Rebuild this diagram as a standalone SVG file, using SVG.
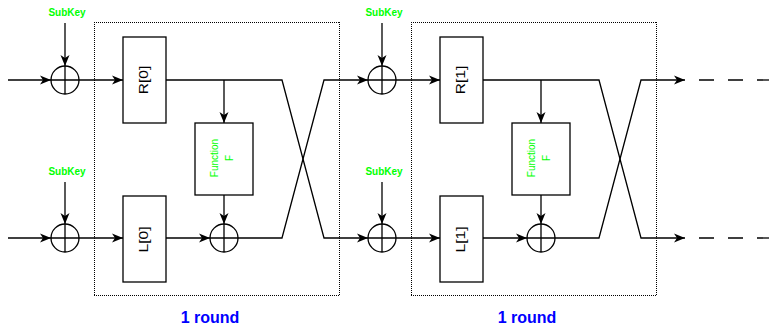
<svg xmlns="http://www.w3.org/2000/svg" width="769" height="326" viewBox="0 0 769 326">
  <defs>
    <marker id="arr" markerUnits="userSpaceOnUse" markerWidth="12" markerHeight="10" viewBox="0 0 12 10" refX="11" refY="5" orient="auto">
      <path d="M0,0.5 L11,5 L0,9.5 L3,5 Z" fill="#000"/>
    </marker>
  </defs>
  <style>
    .ln { fill: none; stroke: #000; stroke-width: 1.3; }
    .ar { marker-end: url(#arr); }
    .box { fill: #fff; stroke: #000; stroke-width: 1.3; }
    .xor { fill: #fff; stroke: #000; stroke-width: 1.3; }
    .round { fill: none; stroke: #000; stroke-width: 1; stroke-dasharray: 1 1; shape-rendering: crispEdges; }
    .reg { font-family: "Liberation Sans", Arial, sans-serif; font-size: 12px; fill: #000; }
    .fn { font-family: "Liberation Sans", Arial, sans-serif; font-size: 10px; fill: #00ff00; }
    .sk { font-family: "Liberation Sans", Arial, sans-serif; font-size: 10px; font-weight: bold; fill: #00ff00; }
    .rl { font-family: "Liberation Sans", Arial, sans-serif; font-size: 16px; font-weight: bold; fill: #0000ff; }
    .dash { fill: none; stroke: #000; stroke-width: 1.3; stroke-dasharray: 15 14; }
  </style>

  <!-- Round containers -->
  <g id="round0">
    <path class="round" d="M94,22.5 H340 M339.5,22 V296 M94,295.5 H340 M94.5,22 V296"/>
    <text class="rl" x="210" y="323" text-anchor="middle">1 round</text>
  </g>
  <g id="round1">
    <path class="round" d="M411,22.5 H657 M656.5,22 V296 M411,295.5 H657 M411.5,22 V296"/>
    <text class="rl" x="527" y="323" text-anchor="middle">1 round</text>
  </g>

  <!-- Connectors -->
  <g id="connectors">
    <!-- round 0 -->
    <path class="ln ar" d="M8,80 H51"/>
    <path class="ln ar" d="M65,23 V66"/>
    <path class="ln ar" d="M79,80 H123"/>
    <path class="ln ar" d="M224,80 V123"/>
    <path class="ln ar" d="M166,80 H282 L324,238 H368"/>
    <path class="ln ar" d="M224,195 V224"/>
    <path class="ln ar" d="M8,238 H51"/>
    <path class="ln ar" d="M65,182 V224"/>
    <path class="ln ar" d="M79,238 H123"/>
    <path class="ln ar" d="M166,238 H210"/>
    <path class="ln ar" d="M238,238 H282 L324,80 H368"/>
    <!-- round 1 -->
    <path class="ln ar" d="M382,23 V66"/>
    <path class="ln ar" d="M396,80 H440"/>
    <path class="ln ar" d="M541,80 V123"/>
    <path class="ln ar" d="M483,80 H599 L641,238 H685"/>
    <path class="ln ar" d="M541,195 V224"/>
    <path class="ln ar" d="M382,182 V224"/>
    <path class="ln ar" d="M396,238 H440"/>
    <path class="ln ar" d="M483,238 H527"/>
    <path class="ln ar" d="M555,238 H599 L641,80 H685"/>
    <!-- continuation -->
    <path class="dash" d="M699,80 H769"/>
    <path class="dash" d="M699,238 H769"/>
  </g>

  <!-- SubKey labels -->
  <g id="subkey0a"><text class="sk" x="67" y="16" text-anchor="middle">SubKey</text></g>
  <g id="subkey0b"><text class="sk" x="67" y="175" text-anchor="middle">SubKey</text></g>
  <g id="subkey1a"><text class="sk" x="384" y="16" text-anchor="middle">SubKey</text></g>
  <g id="subkey1b"><text class="sk" x="384" y="175" text-anchor="middle">SubKey</text></g>

  <!-- XOR nodes -->
  <g id="xor0a"><circle class="xor" cx="65" cy="80" r="14"/><path class="ln" d="M51,80 H79 M65,66 V94"/></g>
  <g id="xor0b"><circle class="xor" cx="65" cy="238" r="14"/><path class="ln" d="M51,238 H79 M65,224 V252"/></g>
  <g id="xor0c"><circle class="xor" cx="224" cy="238" r="14"/><path class="ln" d="M210,238 H238 M224,224 V252"/></g>
  <g id="xor1a"><circle class="xor" cx="382" cy="80" r="14"/><path class="ln" d="M368,80 H396 M382,66 V94"/></g>
  <g id="xor1b"><circle class="xor" cx="382" cy="238" r="14"/><path class="ln" d="M368,238 H396 M382,224 V252"/></g>
  <g id="xor1c"><circle class="xor" cx="541" cy="238" r="14"/><path class="ln" d="M527,238 H555 M541,224 V252"/></g>

  <!-- Registers -->
  <g id="R0">
    <rect class="box" x="123" y="37" width="43" height="86"/>
    <text class="reg" transform="translate(143.5,80) rotate(-90) scale(1.3,1)" text-anchor="middle" dominant-baseline="central">R[0]</text>
  </g>
  <g id="L0">
    <rect class="box" x="123" y="196" width="43" height="86"/>
    <text class="reg" transform="translate(143.5,239.5) rotate(-90) scale(1.3,1)" text-anchor="middle" dominant-baseline="central">L[0]</text>
  </g>
  <g id="R1">
    <rect class="box" x="440" y="37" width="43" height="86"/>
    <text class="reg" transform="translate(460.5,80) rotate(-90) scale(1.3,1)" text-anchor="middle" dominant-baseline="central">R[1]</text>
  </g>
  <g id="L1">
    <rect class="box" x="440" y="196" width="43" height="86"/>
    <text class="reg" transform="translate(460.5,239.5) rotate(-90) scale(1.3,1)" text-anchor="middle" dominant-baseline="central">L[1]</text>
  </g>

  <!-- Function F -->
  <g id="F0">
    <rect class="box" x="195" y="123" width="58" height="72"/>
    <text class="fn" transform="translate(214,158) rotate(-90)" text-anchor="middle" dominant-baseline="central">Function</text>
    <text class="fn" transform="translate(229.5,158) rotate(-90)" text-anchor="middle" dominant-baseline="central">F</text>
  </g>
  <g id="F1">
    <rect class="box" x="512" y="123" width="58" height="72"/>
    <text class="fn" transform="translate(531,158) rotate(-90)" text-anchor="middle" dominant-baseline="central">Function</text>
    <text class="fn" transform="translate(546.5,158) rotate(-90)" text-anchor="middle" dominant-baseline="central">F</text>
  </g>
</svg>
